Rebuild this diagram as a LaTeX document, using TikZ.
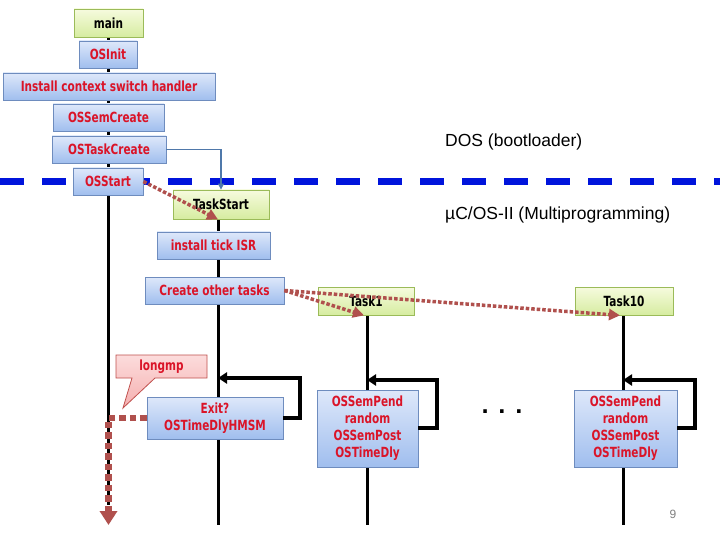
\documentclass[tikz,border=0pt]{standalone}
\usepackage{fontspec}
\usetikzlibrary{arrows.meta,shapes.callouts}
\newfontfamily\boxfont[FakeStretch=0.75]{DejaVu Sans}
\newfontfamily\plainbold{DejaVu Sans}
\newfontfamily\arialfont{Liberation Sans}
\definecolor{txtred}{RGB}{218,20,40}
\definecolor{bluetop}{RGB}{222,232,250}
\definecolor{bluebot}{RGB}{160,190,238}
\definecolor{blueedge}{RGB}{110,140,190}
\definecolor{greentop}{RGB}{246,251,222}
\definecolor{greenbot}{RGB}{214,236,160}
\definecolor{greenedge}{RGB}{155,187,89}
\definecolor{dotred}{RGB}{176,80,77}
\definecolor{dashblue}{RGB}{0,20,220}
\definecolor{linkblue}{RGB}{79,120,170}
\definecolor{pinktop}{RGB}{252,220,220}
\definecolor{pinkbot}{RGB}{245,175,175}
\definecolor{pinkedge}{RGB}{192,80,77}
\tikzset{
  bluebox/.style={draw=blueedge, line width=0.8pt, top color=bluetop, bottom color=bluebot,
    font=\boxfont\bfseries\fontsize{14}{17}\selectfont, text=txtred, inner sep=0pt, align=center},
  greenbox/.style={draw=greenedge, line width=0.8pt, top color=greentop, bottom color=greenbot,
    font=\boxfont\bfseries\fontsize{14}{17}\selectfont, text=black, inner sep=0pt, align=center},
  flow/.style={line width=3pt, black},
  loopline/.style={line width=4pt, black, -{Triangle[length=9pt,width=11pt]}},
  reddot/.style={dotred, line width=3.5pt, dash pattern=on 3.5pt off 2pt,
    -{Triangle[length=11pt,width=11pt]}},
}
\begin{document}
\begin{tikzpicture}[x=1pt,y=-1pt]
\useasboundingbox (0,0) rectangle (720,540);
\fill[white] (0,0) rectangle (720,540);

% blue dashed separator
\draw[dashblue, line width=7pt, dash pattern=on 24pt off 18pt] (0,181.5) -- (720,181.5);

% main vertical lines
\coordinate (leftend) at (108.5,505);
\draw[flow] (108.5,30) -- (leftend);
\draw[flow] (218,210) -- (218,525);
\draw[flow] (367,305) -- (367,525);
\draw[flow] (623,305) -- (623,525);

% left column
\node[greenbox, minimum width=69pt, minimum height=28pt] (main) at (108.5,23) {main};
\node[bluebox, minimum width=58pt, minimum height=27pt] (osinit) at (108,54.5) {OSInit};
\node[bluebox, minimum width=212pt, minimum height=27pt] (install) at (109,86.5) {Install context switch handler};
\node[bluebox, minimum width=111pt, minimum height=27pt] (semcreate) at (108.5,117.5) {OSSemCreate};
\node[bluebox, minimum width=114pt, minimum height=27pt] (taskcreate) at (109,149.5) {OSTaskCreate};
\node[bluebox, minimum width=70pt, minimum height=27pt] (osstart) at (108,181.5) {OSStart};

% TaskStart column
\node[greenbox, minimum width=96pt, minimum height=29pt] (taskstart) at (221,204.5) {TaskStart};
\node[bluebox, minimum width=113pt, minimum height=27pt] (tick) at (213.5,245.5) {install tick ISR};
\node[bluebox, minimum width=139pt, minimum height=27pt] (create) at (214.5,290.5) {Create other tasks};
\node[bluebox, minimum width=136pt, minimum height=42pt] (exit) at (215,418) {Exit?\\OSTimeDlyHMSM};

% tasks
\node[greenbox, minimum width=96pt, minimum height=28pt] (task1) at (366,301) {Task1};
\node[greenbox, minimum width=98pt, minimum height=28pt] (task10) at (624,301) {Task10};
\node[bluebox, minimum width=101pt, minimum height=77pt] (body1) at (367.5,428.5) {OSSemPend\\random\\OSSemPost\\OSTimeDly};
\node[bluebox, minimum width=103pt, minimum height=77pt] (body10) at (625.5,428.5) {OSSemPend\\random\\OSSemPost\\OSTimeDly};

% OSTaskCreate -> TaskStart connector
\draw[linkblue, line width=1.2pt, -{Triangle[length=6pt,width=6pt]}]
  (taskcreate.east) -- (221,149.5) -- (taskstart.north);

% loops
\coordinate (l0) at (218,378);
\coordinate (l1) at (367,380);
\coordinate (l2) at (623,380);
\draw[loopline] (exit.east) -| (300,378) -- (l0);
\draw[loopline] (body1.east |- 0,428) -| (437,380) -- (l1);
\draw[loopline] (body10.east |- 0,428) -| (695,380) -- (l2);

% red dotted arrows
\draw[reddot] (osstart.east) -- ([xshift=-3pt]taskstart.south);
\draw[reddot] (create.east) -- ([xshift=-2pt]task1.south);
\draw[reddot] (create.east) -- ([xshift=-4pt]task10.south);

% longmp callout and jump
\draw[pinkedge, line width=0.8pt, top color=pinktop, bottom color=pinkbot]
  (116,355) -- (207,355) -- (207,378) -- (155,378) -- (123,408) -- (132,378) -- (116,378) -- cycle;
\node[font=\boxfont\bfseries\fontsize{14}{17}\selectfont, text=txtred] (longmp) at (161.5,366.5) {longmp};
\coordinate (jumpend) at (108.5,525);
\draw[dotred, line width=6.5pt, dash pattern=on 6.5pt off 4pt, -{Triangle[length=14pt,width=17pt]}]
  (exit.west) -- (108.5,418) -- (jumpend);

% dots
\node[font=\plainbold\bfseries\fontsize{20}{20}\selectfont] (dots) at (502,412) {. . .};

% region labels
\node[font=\arialfont\fontsize{17.5}{20}\selectfont, anchor=west, inner sep=0pt] (dos) at (445,142) {DOS (bootloader)};
\node[font=\arialfont\fontsize{17.5}{20}\selectfont, anchor=west, inner sep=0pt] (ucos) at (445,215) {µC/OS-II (Multiprogramming)};

% page number
\node[font=\arialfont\fontsize{12}{12}\selectfont, text=gray] (pnum) at (673,514) {9};
\end{tikzpicture}
\end{document}
